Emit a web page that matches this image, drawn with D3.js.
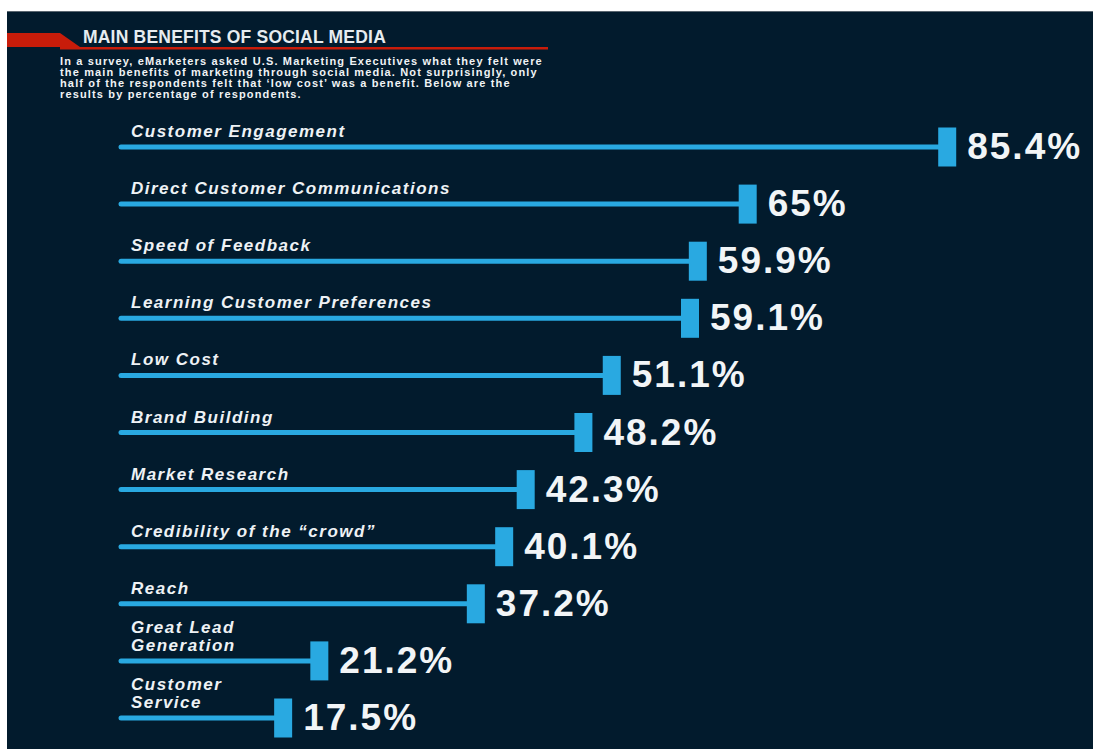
<!DOCTYPE html>
<html>
<head>
<meta charset="utf-8">
<script src="https://cdn.jsdelivr.net/npm/d3@7"></script>
<style>
  body { margin: 0; background: #fff; }
  svg { display: block; }
  .label { fill: #eef2f5; font-family: "Liberation Sans", Arial, sans-serif; font-weight: bold; font-style: italic; font-size: 17px; letter-spacing: 1.5px; }
  .value { fill: #f2f5f7; font-family: "Liberation Sans", Arial, sans-serif; font-weight: bold; font-size: 37px; letter-spacing: 2px; }
</style>
</head>
<body>
<svg></svg>
<script>
const w = 1093;
const h = 749;

// Data
const categories = [
  ["Customer Engagement"],
  ["Direct Customer Communications"],
  ["Speed of Feedback"],
  ["Learning Customer Preferences"],
  ["Low Cost"],
  ["Brand Building"],
  ["Market Research"],
  ["Credibility of the \u201ccrowd\u201d"],
  ["Reach"],
  ["Great Lead", "Generation"],
  ["Customer", "Service"]
];
const values = [85.4, 65, 59.9, 59.1, 51.1, 48.2, 42.3, 40.1, 37.2, 21.2, 17.5];
const valueLabels = ["85.4%", "65%", "59.9%", "59.1%", "51.1%", "48.2%", "42.3%", "40.1%", "37.2%", "21.2%", "17.5%"];
const title = "MAIN BENEFITS OF SOCIAL MEDIA";
const intro = [
  "In a survey, eMarketers asked U.S. Marketing Executives what they felt were",
  "the main benefits of marketing through social media. Not surprisingly, only",
  "half of the respondents felt that \u2018low cost\u2019 was a benefit. Below are the",
  "results by percentage of respondents."
];

const svg = d3.select("svg")
    .attr("width", w)
    .attr("height", h);

// panel
svg.append("rect")
    .attr("x", 7).attr("y", 11)
    .attr("width", w - 7).attr("height", h - 11)
    .attr("fill", "#021b2d");
svg.append("line")
    .attr("x1", 7).attr("x2", w).attr("y1", 11.5).attr("y2", 11.5)
    .attr("stroke", "#5a6670").attr("stroke-width", 1);

// header
svg.append("path")
    .attr("d", "M7,33 L60,33 L80,47 L7,47 Z")
    .attr("fill", "#c81c0a");
svg.append("rect")
    .attr("x", 60).attr("y", 47).attr("width", 488).attr("height", 2.5)
    .attr("fill", "#c81c0a");

svg.append("text")
    .attr("x", 83).attr("y", 43)
    .attr("fill", "#e6ecf0")
    .style("font-family", "'Liberation Sans', Arial, sans-serif")
    .style("font-weight", "bold")
    .style("font-size", "17.5px")
    .style("letter-spacing", "0.2px")
    .text(title);

svg.append("g")
    .selectAll("text")
    .data(intro)
    .join("text")
    .attr("x", 60)
    .attr("y", (d, i) => 65 + i * 11)
    .attr("fill", "#f0f3f5")
    .style("font-family", "'Liberation Sans', Arial, sans-serif")
    .style("font-weight", "bold")
    .style("font-size", "11px")
    .style("letter-spacing", "1.15px")
    .text(d => d);

// Scales
const x = d3.scaleLinear().domain([0, 100]).range([121, 1099]);
const y = d3.scalePoint().domain(d3.range(values.length)).range([147, 718]);

const markerW = 18;
const markerH = 39;

const rows = svg.append("g")
    .selectAll(".row")
    .data(values.map((v, i) => ({ v, i, label: categories[i], text: valueLabels[i] })))
    .join("g")
    .attr("class", "row")
    .attr("transform", d => `translate(0,${y(d.i)})`);

rows.append("line")
    .attr("x1", x(0))
    .attr("x2", d => x(d.v) - markerW / 2)
    .attr("y1", 0).attr("y2", 0)
    .attr("stroke", "#29a9e1")
    .attr("stroke-width", 5)
    .attr("stroke-linecap", "round");

rows.append("rect")
    .attr("x", d => x(d.v) - markerW)
    .attr("y", -markerH / 2)
    .attr("width", markerW)
    .attr("height", markerH)
    .attr("fill", "#29a9e1");

rows.append("text")
    .attr("class", "value")
    .attr("x", d => x(d.v) + 11)
    .attr("y", 12)
    .text(d => d.text);

rows.append("text")
    .attr("class", "label")
    .attr("x", 131)
    .attr("y", d => -10 - (d.label.length - 1) * 18)
    .selectAll("tspan")
    .data(d => d.label)
    .join("tspan")
    .attr("x", 131)
    .attr("dy", (d, i) => i ? 18 : 0)
    .text(d => d);
</script>
</body>
</html>
